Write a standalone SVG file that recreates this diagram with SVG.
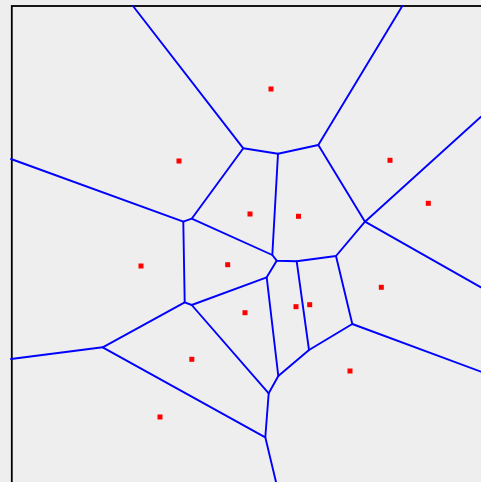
<svg xmlns="http://www.w3.org/2000/svg" width="481" height="482" viewBox="0 0 481 482">
<style>
.e{stroke:#0000ff;stroke-width:1.9;fill:none;stroke-linecap:round;stroke-linejoin:round}
.p{fill:#ff0000}
</style>
<rect x="0" y="0" width="481" height="482" fill="#eeeeee"/>
<rect x="11.8" y="6" width="500" height="500" fill="#eeeeee" stroke="#000000" stroke-width="1.8"/>
<g id="connectors">
<path class="e" d="M133,6 L243.3,148.3 L278,153.7 L318.3,145 L402.3,6"/>
<path class="e" d="M318.3,145 L365,221.7 L481,116.7"/>
<path class="e" d="M365,221.7 L481,287.3"/>
<path class="e" d="M365,221.7 L336,256 L296.7,261.3 L276.7,260.7 L272.3,255 L278,153.7"/>
<path class="e" d="M272.3,255 L191.7,218.7 L243.3,148.3"/>
<path class="e" d="M191.7,218.7 L183.3,221.7 L11,159"/>
<path class="e" d="M183.3,221.7 L184.7,302.3 L191.7,305 L266.7,277.3 L276.7,260.7"/>
<path class="e" d="M184.7,302.3 L102.7,347.3 L11,359"/>
<path class="e" d="M102.7,347.3 L265.3,437.3 L276,482"/>
<path class="e" d="M265.3,437.3 L268.7,393.3 L278.3,376 L309,350 L352.3,324 L336,256"/>
<path class="e" d="M268.7,393.3 L191.7,305"/>
<path class="e" d="M266.7,277.3 L278.3,376"/>
<path class="e" d="M296.7,261.3 L309,350"/>
<path class="e" d="M352.3,324 L481,371.7"/>
</g>
<g id="sites">
<rect class="p" x="268.5" y="86.5" width="5" height="5"/>
<rect class="p" x="176.5" y="158.5" width="5" height="5"/>
<rect class="p" x="387.5" y="157.8" width="5" height="5"/>
<rect class="p" x="425.8" y="200.8" width="5" height="5"/>
<rect class="p" x="247.5" y="211.5" width="5" height="5"/>
<rect class="p" x="296" y="213.8" width="5" height="5"/>
<rect class="p" x="138.5" y="263.5" width="5" height="5"/>
<rect class="p" x="225.2" y="262.2" width="5" height="5"/>
<rect class="p" x="378.8" y="284.8" width="5" height="5"/>
<rect class="p" x="242.5" y="310.2" width="5" height="5"/>
<rect class="p" x="293.5" y="304.2" width="5" height="5"/>
<rect class="p" x="307.2" y="302.2" width="5" height="5"/>
<rect class="p" x="189.3" y="356.8" width="5" height="5"/>
<rect class="p" x="347.5" y="368.5" width="5" height="5"/>
<rect class="p" x="157.5" y="414.5" width="5" height="5"/>
</g>
</svg>
